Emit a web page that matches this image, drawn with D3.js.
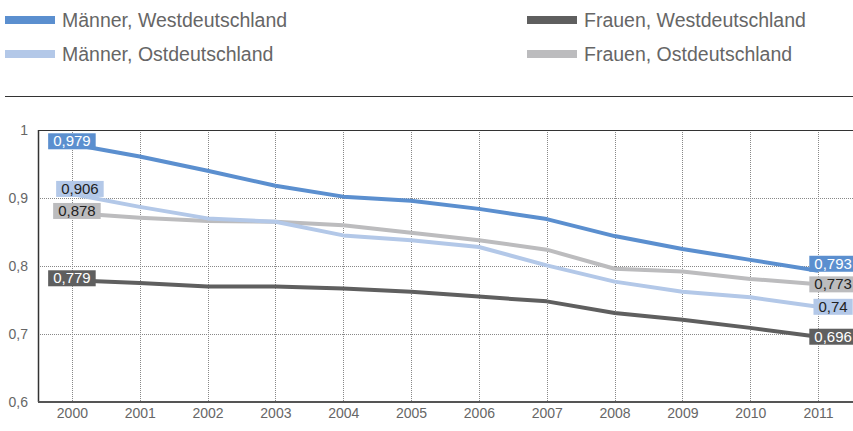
<!DOCTYPE html>
<html><head><meta charset="utf-8">
<script src="https://cdn.jsdelivr.net/npm/d3@7/dist/d3.min.js"></script>
<style>body{margin:0;background:#fff}svg{display:block;font-family:"Liberation Sans",Arial,sans-serif}</style>
</head><body><svg id="c" width="853" height="431"></svg>
<script>
const years = ["2000","2001","2002","2003","2004","2005","2006","2007","2008","2009","2010","2011"];
const seriesNames = ["Männer, Westdeutschland","Männer, Ostdeutschland","Frauen, Westdeutschland","Frauen, Ostdeutschland"];
const maennerWest = [0.979,0.961,0.940,0.918,0.902,0.896,0.884,0.869,0.844,0.825,0.809,0.793];
const maennerOst  = [0.906,0.887,0.870,0.865,0.845,0.838,0.828,0.801,0.777,0.762,0.754,0.740];
const frauenWest  = [0.779,0.775,0.770,0.770,0.767,0.762,0.755,0.748,0.731,0.721,0.709,0.696];
const frauenOst   = [0.878,0.871,0.866,0.865,0.860,0.849,0.838,0.824,0.796,0.792,0.781,0.773];
const yTicks = [0.6,0.7,0.8,0.9,1];
const startLabels = ["0,979","0,906","0,878","0,779"];
const endLabels = ["0,793","0,74","0,696","0,773"];

const colors = ["#5b8fcf","#b3c8e8","#5f5f5f","#bcbcbe"];
const labelText = ["#fff","#222","#fff","#222"];
const series = [maennerWest, maennerOst, frauenWest, frauenOst];
const startDx = [0,8,0,5], startDy = [-3,-5,-2,-2];
const endDy = [-7,0,0,0];

const svg = d3.select("#c");
const L=38, R=852, T=130, B=402;
const x = d3.scalePoint().domain(years).range([L,R]).padding(0.5);
const y = d3.scaleLinear().domain([0.6,1]).range([B,T]);

// legend
const legPos = [[5,20],[5,54],[527,20],[527,54]];
seriesNames.forEach((n,i)=>{
  const [lx,ly]=legPos[i];
  svg.append("rect").attr("x",lx).attr("y",ly-4).attr("width",50).attr("height",8).attr("fill",colors[i]);
  svg.append("text").attr("x",lx+57).attr("y",ly+7).attr("font-size",19.5).attr("fill","#666").text(n);
});
svg.append("line").attr("x1",5).attr("x2",853).attr("y1",96.5).attr("y2",96.5).attr("stroke","#333").attr("stroke-width",1.2);

// grid
const g = svg.append("g");
g.selectAll(".vg").data(years).join("line")
  .attr("x1",d=>Math.round(x(d))+0.5).attr("x2",d=>Math.round(x(d))+0.5).attr("y1",T).attr("y2",B)
  .attr("stroke","#888").attr("stroke-dasharray","1,1");
g.selectAll(".hg").data(yTicks.filter(v=>v>0.6&&v<1)).join("line")
  .attr("x1",L).attr("x2",853).attr("y1",d=>Math.round(y(d))+0.5).attr("y2",d=>Math.round(y(d))+0.5)
  .attr("stroke","#888").attr("stroke-dasharray","1,1");
// frame
svg.append("line").attr("x1",L).attr("x2",853).attr("y1",T+0.5).attr("y2",T+0.5).attr("stroke","#333").attr("stroke-width",1.2);
svg.append("line").attr("x1",L+0.5).attr("x2",L+0.5).attr("y1",T).attr("y2",B).attr("stroke","#333").attr("stroke-width",1.5);
svg.append("line").attr("x1",L).attr("x2",853).attr("y1",B).attr("y2",B).attr("stroke","#555").attr("stroke-width",2);

// axes labels
const yAxis = d3.axisLeft(y).tickValues(yTicks).tickSize(0).tickPadding(10)
  .tickFormat(d=>d===1?"1":d3.format(".1f")(d).replace(".",","));
const ya = svg.append("g").attr("transform",`translate(${L},0)`).call(yAxis);
ya.select(".domain").remove();
ya.selectAll("text").attr("font-size",14).attr("fill","#666").attr("font-family","Liberation Sans, Arial, sans-serif");
const xAxis = d3.axisBottom(x).tickSize(0).tickPadding(6);
const xa = svg.append("g").attr("transform",`translate(0,${B})`).call(xAxis);
xa.select(".domain").remove();
xa.selectAll("text").attr("font-size",14).attr("fill","#666").attr("font-family","Liberation Sans, Arial, sans-serif");

// lines
const line = d3.line().x((d,i)=>x(years[i])).y(d=>y(d));
const drawOrder = [2,3,1,0];
drawOrder.forEach(i=>{
  svg.append("path").datum(series[i]).attr("d",line).attr("fill","none")
    .attr("stroke",colors[i]).attr("stroke-width",4).attr("stroke-linejoin","round");
});

// value labels
function label(txt, cx, cy, i){
  const t = svg.append("text").attr("x",cx).attr("y",cy+5).attr("text-anchor","middle")
    .attr("font-size",15).attr("fill",labelText[i]).text(txt);
  const bb = t.node().getBBox();
  svg.insert("rect", () => t.node()).attr("x",bb.x-5).attr("y",cy-8).attr("width",bb.width+10).attr("height",16).attr("fill",colors[i]);
}
const startIdx = [0,1,3,2];
startIdx.forEach((i,k)=>label(startLabels[k], x(years[0])+startDx[i], y(series[i][0])+startDy[i], i));
const endIdx = [0,1,2,3];
endIdx.forEach((i,k)=>{
  const v = series[i][years.length-1];
  label(endLabels[k], x(years[years.length-1])+15, y(v)+endDy[i], i);
});
</script></body></html>
